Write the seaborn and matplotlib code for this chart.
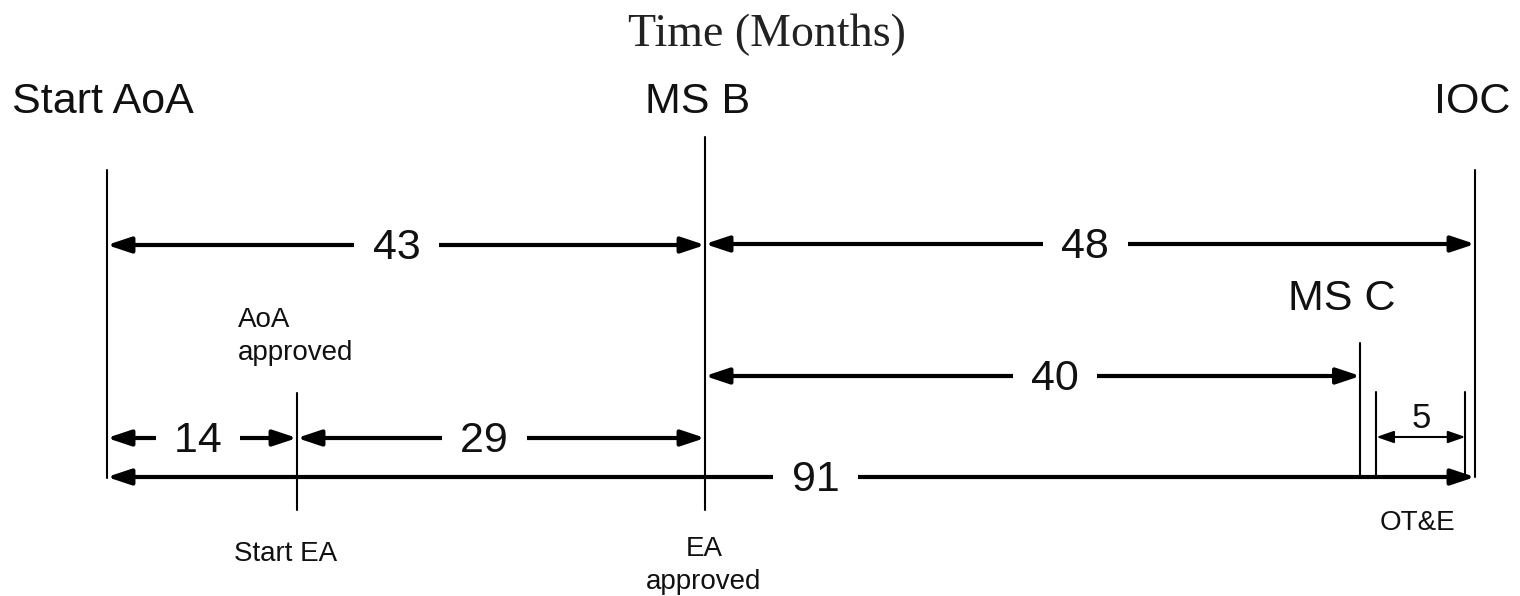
import matplotlib
matplotlib.use("Agg")
import matplotlib.pyplot as plt
import seaborn as sns
import pandas as pd

# Milestones and where they sit on the (schematic) time line, in months
milestones = ["Start AoA", "Start EA", "MS B", "MS C", "OT&E start", "OT&E end", "IOC"]
milestone_pos = [0.0, 12.64, 39.78, 83.38, 84.44, 90.36, 91.0]

# Durations between milestones (months)
span_start = ["Start AoA", "MS B", "MS B", "Start AoA", "Start EA", "Start AoA", "OT&E start"]
span_end = ["MS B", "IOC", "MS C", "Start EA", "MS B", "IOC", "OT&E end"]
span_months = [43, 48, 40, 14, 29, 91, 5]

# Text around the time line
top_labels = ["Start AoA", "MS B", "IOC", "MS C"]
small_labels = ["AoA\napproved", "Start EA", "EA\napproved", "OT&E"]
title = "Time (Months)"

# Layout: rows in figure pixels (y grows downward)
line_top = [170, 393, 137, 343, 392, 392, 170]
line_bottom = [478, 510, 510, 475, 477, 477, 477]
span_row = [245, 244, 376, 438, 438, 477, 437]
label_frac = [0.484, 0.494, 0.534, 0.479, 0.459, 0.518, 0.5]
label_above = [False, False, False, False, False, False, True]
top_x = [-6.32, 39.31, 93.33, 85.68]
top_ha = ["left", "center", "right", "right"]
top_base = [113, 113, 113, 310]
small_x = [8.71, 11.91, 39.71, 87.14]
small_ha = ["left", "center", "center", "center"]
small_base = [327, 561, 556, 530]

sns.set_theme(style="white")
plt.rcParams["font.family"] = ["Liberation Sans", "DejaVu Sans"]

px_per_month = (1475 - 107) / 91.0
fig = plt.figure(figsize=(15.2, 5.96), dpi=100)
ax = fig.add_axes([0, 0, 1, 1])

pos = dict(zip(milestones, milestone_pos))

# Vertical milestone lines
rows = []
for name, t, b in zip(milestones, line_top, line_bottom):
    rows.append({"milestone": name, "x": pos[name], "y": t})
    rows.append({"milestone": name, "x": pos[name], "y": b})
vdf = pd.DataFrame(rows)
sns.lineplot(data=vdf, x="x", y="y", units="milestone", estimator=None, sort=False,
             color="black", linewidth=1.5, legend=False, ax=ax)

# Duration arrows with their labels
for s, e, m, y, f, above in zip(span_start, span_end, span_months, span_row, label_frac, label_above):
    x0, x1 = pos[s], pos[e]
    if above:
        style = "<|-|>,head_length=0.8,head_width=0.28"
        ax.annotate("", xy=(x1, y), xytext=(x0, y),
                    arrowprops=dict(arrowstyle=style, lw=1.5, color="black",
                                    shrinkA=0, shrinkB=0, mutation_scale=13))
        ax.text(x0 + f * (x1 - x0), y - 9, str(m), ha="center", va="baseline",
                fontsize=25, color="#111111")
    else:
        style = "<|-|>,head_length=0.75,head_width=0.25"
        ax.annotate("", xy=(x1, y), xytext=(x0, y),
                    arrowprops=dict(arrowstyle=style, lw=3.0, color="black",
                                    shrinkA=0, shrinkB=0, mutation_scale=19))
        ax.text(x0 + f * (x1 - x0), y + 14, f" {m} ", ha="center", va="baseline",
                fontsize=31, color="#111111", zorder=5,
                bbox=dict(boxstyle="square,pad=0.15", fc="white", ec="none"))

# Milestone names
for lab, x, ha, b in zip(top_labels, top_x, top_ha, top_base):
    ax.text(x, b, lab, ha=ha, va="baseline", fontsize=31, color="#111111")

for lab, x, ha, b in zip(small_labels, small_x, small_ha, small_base):
    for i, line in enumerate(lab.split("\n")):
        ax.text(x, b + i * 33, line, ha=ha, va="baseline", fontsize=20, color="#111111")

ax.text((767 - 107) / px_per_month, 46, title, ha="center", va="baseline",
        fontsize=33, color="#222222", family=["Liberation Serif", "DejaVu Serif"])

ax.set_xlim(-107 / px_per_month, (1520 - 107) / px_per_month)
ax.set_ylim(596, 0)
ax.axis("off")

fig.savefig("out.png", dpi=100)
